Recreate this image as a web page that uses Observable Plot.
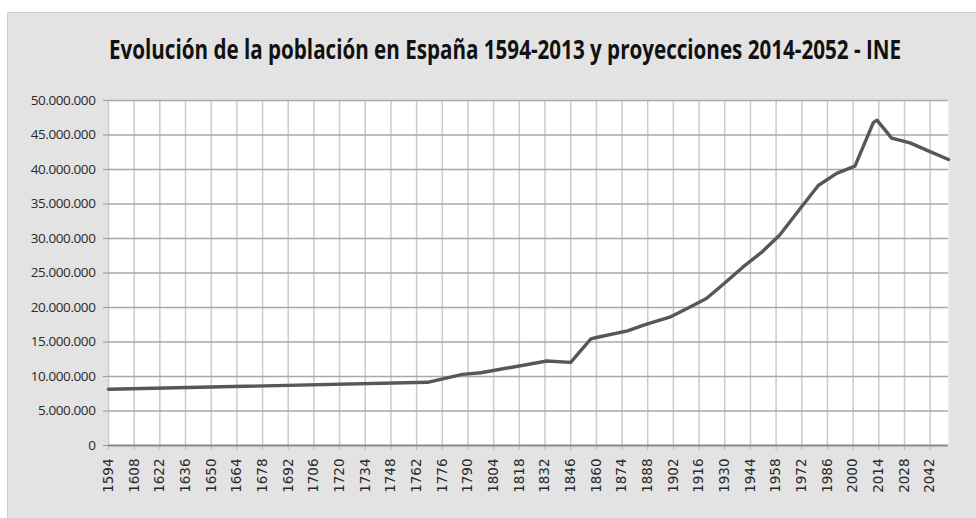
<!DOCTYPE html>
<html>
<head>
<meta charset="utf-8">
<script src="https://cdn.jsdelivr.net/npm/d3@7"></script>
<script src="https://cdn.jsdelivr.net/npm/@observablehq/plot@0.6"></script>
<style>
  html, body { margin: 0; padding: 0; background: #fff; }
  #wrap { position: relative; width: 976px; height: 518px; overflow: hidden; }
  #bg { position: absolute; left: 7px; top: 12px; width: 969px; height: 506px;
        background: #e3e3e3; box-shadow: inset 1px 1px 0 #d0d0d0; }
  #title { position: absolute; left: 0; top: 32px; width: 976px; height: 34px; }
  #title span { position: absolute; left: 505px; top: 0; white-space: nowrap;
        font-family: "Open Sans", sans-serif; font-weight: 700; font-size: 26px; color: #111;
        transform-origin: 50% 0; line-height: 34px; }
  #chart { position: absolute; left: 0; top: 0; }
  #chart g[aria-label="y-axis tick label"] { font-size: 13.5px; font-family: "Open Sans", sans-serif; letter-spacing: -0.4px; }
  #chart g[aria-label="x-axis tick label"] { font-size: 13.5px; font-family: "DejaVu Sans", sans-serif; }
</style>
</head>
<body>
<div id="wrap">
  <div id="bg"></div>
  <div id="title"><span id="t">Evolución de la población en España 1594-2013 y proyecciones 2014-2052 - INE</span></div>
  <div id="chart"></div>
</div>
<script>
const years = [1594, 1768, 1787, 1797, 1833, 1846, 1857, 1860, 1877, 1887, 1900, 1910, 1920, 1930, 1940, 1950, 1960, 1970, 1981, 1991, 2001, 2011, 2013, 2021, 2031, 2041, 2052];
const population = [8150000, 9160000, 10300000, 10540000, 12250000, 12050000, 15460000, 15650000, 16620000, 17550000, 18600000, 19930000, 21300000, 23560000, 25880000, 27980000, 30500000, 33950000, 37680000, 39430000, 40500000, 46800000, 47150000, 44550000, 43850000, 42700000, 41450000];
const xTicks = [1594, 1608, 1622, 1636, 1650, 1664, 1678, 1692, 1706, 1720, 1734, 1748, 1762, 1776, 1790, 1804, 1818, 1832, 1846, 1860, 1874, 1888, 1902, 1916, 1930, 1944, 1958, 1972, 1986, 2000, 2014, 2028, 2042];
const yTicks = [0, 5000000, 10000000, 15000000, 20000000, 25000000, 30000000, 35000000, 40000000, 45000000, 50000000];

const data = years.map((y, i) => ({year: y, pop: population[i]}));
const esFmt = d3.formatLocale({thousands: ".", decimal: ",", grouping: [3], currency: ["", "€"]}).format(",");

const chart = Plot.plot({
  width: 976,
  height: 518,
  marginLeft: 108,
  marginRight: 28,
  marginTop: 100,
  marginBottom: 73,
  style: {background: "transparent", overflow: "visible"},
  x: {domain: [1594, 2052], ticks: xTicks},
  y: {domain: [0, 50000000], ticks: yTicks},
  marks: [
    Plot.frame({fill: "white", stroke: "none"}),
    Plot.gridX(xTicks, {stroke: "#cbcbcb", strokeOpacity: 1, strokeWidth: 1.5}),
    Plot.gridY(yTicks.slice(1), {stroke: "#a9a9a9", strokeOpacity: 1, strokeWidth: 1.5}),
    Plot.axisY(yTicks, {tickSize: 5, tickPadding: 8, tickFormat: d => esFmt(d), stroke: "#999",
      fontSize: 13.5, fill: "#2a2a2a", label: null}),
    Plot.axisX(xTicks, {tickSize: 5, tickPadding: 8, tickRotate: -90, tickFormat: d => String(d), stroke: "#bbb",
      fontSize: 13.5, fill: "#2a2a2a", label: null}),
    Plot.ruleY([0], {stroke: "#8a8a8a", strokeWidth: 2}),
    Plot.line(data, {x: "year", y: "pop", stroke: "#575757", strokeWidth: 3.4, strokeLinejoin: "round"})
  ]
});
document.getElementById("chart").appendChild(chart);
d3.select(chart).selectAll('g[aria-label="y-axis tick label"]').attr("font-size", 13.5).attr("font-family", "Open Sans");
d3.select(chart).selectAll('g[aria-label="x-axis tick label"]').attr("font-size", 13.5).attr("font-family", "DejaVu Sans");

const t = document.getElementById("t");
const w = t.getBoundingClientRect().width;
const s = 792 / w;
t.style.transform = `translateX(-50%) scaleX(${s})`;
</script>
</body>
</html>
